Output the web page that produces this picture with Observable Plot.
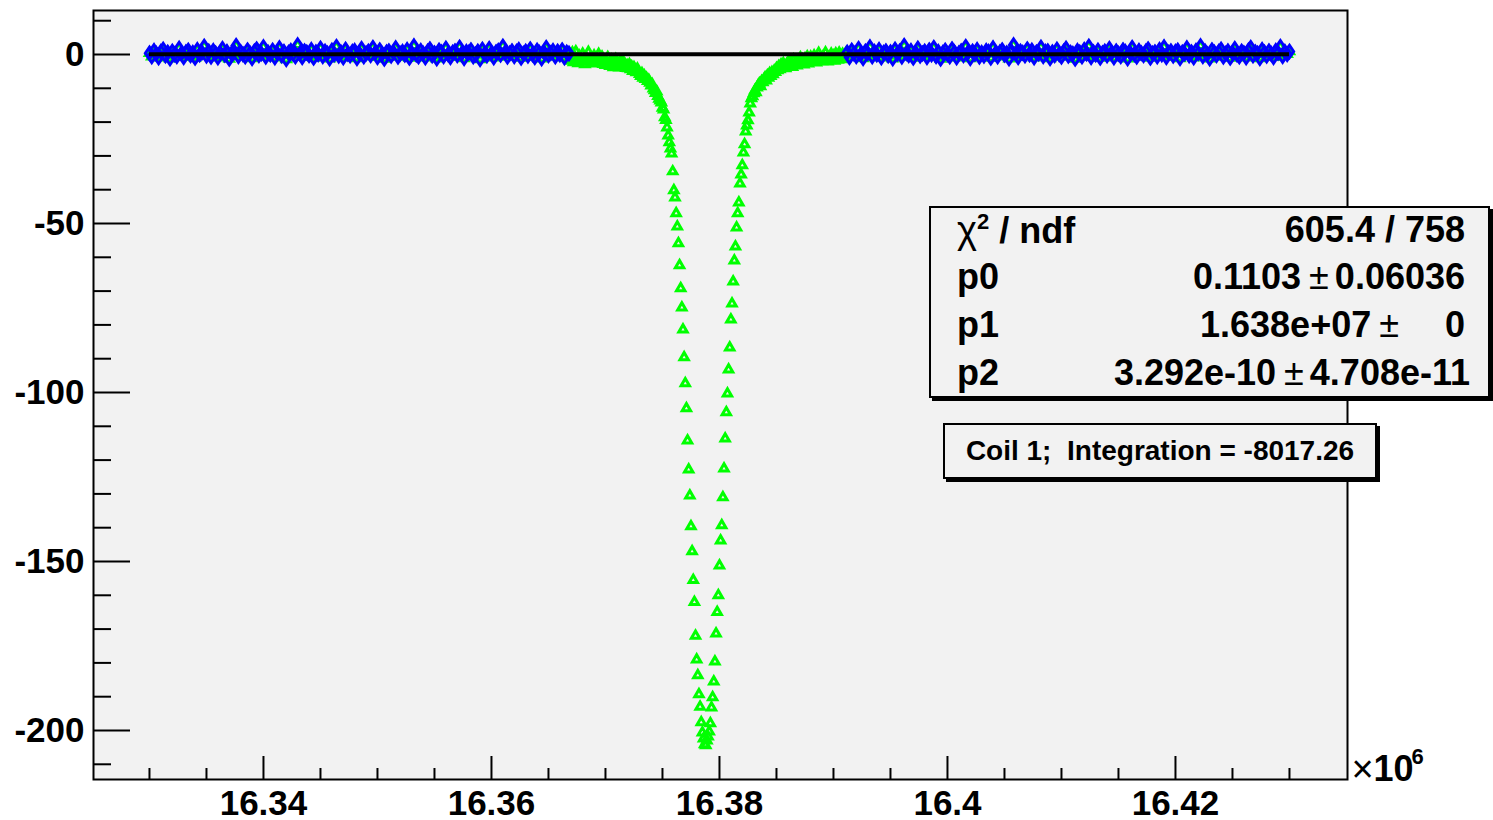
<!DOCTYPE html>
<html><head><meta charset="utf-8">
<script src="https://cdn.jsdelivr.net/npm/d3@7"></script>
<script src="https://cdn.jsdelivr.net/npm/@observablehq/plot@0.6"></script>
<style>
html,body{margin:0;padding:0;background:#fff;}
#wrap{position:relative;width:1493px;height:820px;font-family:"Liberation Sans",Arial,Helvetica,sans-serif;color:#000;}
#wrap svg{position:absolute;left:0;top:0;}
.box{position:absolute;background:#f2f2f2;border:2px solid #000;box-shadow:3px 3px 0 #000;box-sizing:border-box;font-weight:bold;}
.row{position:absolute;left:26px;right:23px;height:48px;line-height:48px;display:flex;justify-content:space-between;white-space:pre;font-size:36px;}
.pm{font-weight:normal;margin:0 6px 0 8px;}
.chi{font-weight:normal;font-size:38px;}
.sup{font-size:22px;position:relative;top:-14px;}
</style>
</head><body>
<div id="wrap"></div>
<script>
// ---------------- data ----------------
// baseline points used by the fit (blue) left of the resonance
const leftStart = 16.33, leftStep = 0.0002;
const leftNoise = [
0.4,-0.6,1.1,0.2,-0.9,0.8,1.5,-0.3,0.6,-1.2,
0.9,0.1,-0.5,1.8,0.3,-0.8,0.7,1.2,-0.2,0.5,
-1.0,1.4,0.0,0.6,2.4,-0.4,0.9,-0.7,1.1,0.3,
-0.9,0.5,1.7,-0.1,0.8,-1.3,0.2,1.0,2.6,-0.5,
0.7,0.1,-0.6,1.3,0.4,-1.1,0.9,1.6,-0.2,0.3,
2.2,-0.7,0.6,0.0,1.2,-0.9,0.4,1.9,-0.3,0.8,
-1.4,0.5,1.1,0.2,-0.6,2.8,0.3,-0.8,1.0,0.6,
-0.2,1.4,-1.0,0.7,0.1,1.8,-0.5,0.9,0.3,-1.2,
1.2,0.0,2.3,-0.4,0.6,-0.9,1.5,0.2,-0.3,0.8,
1.1,-1.1,0.4,1.7,-0.6,0.3,0.9,-0.2,2.0,0.5,
-0.8,1.3,0.1,-1.3,0.7,1.0,-0.4,0.6,1.9,-0.7,
0.2,0.8,-0.1,1.4,-1.0,0.5,2.5,0.0,-0.6,1.1,
0.3,-0.9,0.9,1.6,-0.3,0.4,-1.2,1.2,0.7,-0.5,
1.8,0.1,-0.8,0.6,1.0,-0.2,2.1,0.3,-1.1,0.8,
0.5,1.3,-0.6,0.0,0.9,-1.4,1.5,0.2,-0.3,1.7,
0.4,-0.9,0.7,1.1,-0.1,2.4,0.6,-0.7,0.3,1.0,
-0.5,0.8,1.4,-1.0,0.2,0.9,-0.4,1.6,0.1,-0.8,
1.2,0.5,-1.2,0.7,2.0,-0.2,0.4,1.1,-0.6,0.9,
0.0,1.3,-0.9,0.6,0.3];

// resonance region (green only)
const dipStart = 16.3669, dipStep = 0.0001;
const dipValues = [
-0.8,-1.9,0.6,-2.3,-1.1,0.9,-1.6,-2.6,-0.4,-1.3,
-2.1,0.2,-1.7,-2.9,-0.9,-1.4,0.7,-2.2,-1.0,-2.5,
-1.8,-0.3,-2.7,-1.2,-1.6,0.1,-2.4,-1.9,-0.7,-2.8,
-1.9,-3.1,-2.2,-0.8,-2.9,-3.4,-1.6,-2.5,-3.8,-2.0,
-1.4,-3.3,-2.7,-3.9,-2.1,-3.0,-1.8,-3.6,-2.8,-4.0,
-3.2,-4.1,-2.9,-4.4,-3.6,-4.9,-3.8,-4.6,-5.3,-4.2,
-5.1,-5.8,-6.4,-5.6,-6.9,-6.2,-7.3,-7.0,-7.9,-7.6,
-8.4,-9.2,-8.8,-10.1,-10.6,-11.4,-11.0,-12.3,-13.1,-13.6,
-14.2,-15.8,-16.3,-18.6,-19.4,-21.6,-24.0,-26.0,-27.8,-29.3,
-34.6,-40.2,-42.3,-47.0,-50.9,-55.9,-62.4,-69.2,-74.9,-81.4,
-89.6,-97.3,-104.7,-114.2,-122.8,-130.5,-139.6,-147.0,-155.5,-162.0,
-172.0,-179.0,-183.7,-189.3,-193.0,-197.6,-200.6,-202.4,-204.1,-204.4,
-203.0,-201.8,-200.3,-197.9,-193.2,-190.2,-185.5,-179.6,-171.3,-165.0,
-160.0,-151.2,-143.8,-139.3,-131.0,-122.5,-113.6,-105.9,-100.3,-93.2,
-86.7,-78.4,-73.7,-67.2,-61.0,-56.8,-51.2,-47.0,-43.8,-38.2,
-35.5,-32.8,-29.0,-26.6,-22.8,-21.0,-19.5,-17.2,-14.5,-13.0,
-12.4,-11.5,-10.7,-11.2,-9.8,-9.1,-8.6,-9.4,-7.9,-8.2,
-7.4,-6.8,-7.7,-6.2,-6.9,-5.6,-6.4,-5.3,-5.9,-4.8,
-5.2,-4.1,-4.7,-3.5,-4.4,-3.0,-3.9,-2.6,-3.6,-4.1,
-2.8,-3.4,-1.9,-3.1,-2.4,-3.7,-1.6,-2.9,-2.2,-3.3,
-1.8,-2.6,-0.9,-2.3,-1.5,-3.0,-1.2,-2.0,-0.6,-2.7,
-1.4,-0.7,-2.2,-1.9,-0.3,-1.6,-2.4,-1.0,0.4,-1.8,
-1.1,-2.0,-0.5,-1.5,0.6,-1.3,-2.1,-0.8,-1.7,0.2,
-1.2,-0.4,-1.9,0.3,-1.0,-1.6,0.5,-0.6,-1.4,0.1,-0.9,-1.3,0.4];

// baseline points used by the fit (blue) right of the resonance
const rightStart = 16.3912, rightStep = 0.0002;
const rightNoise = [
0.6,-0.8,1.2,0.3,-0.5,1.7,0.1,-1.1,0.9,0.4,
2.2,-0.6,0.8,0.0,1.4,-0.9,0.5,1.0,-0.3,0.7,
-1.2,1.5,0.2,0.9,-0.7,2.6,0.4,-0.2,1.1,-1.0,
0.6,1.8,-0.4,0.3,0.9,-0.8,1.3,0.0,2.0,-0.5,
0.8,-1.3,0.5,1.2,0.1,-0.6,1.6,0.7,-0.9,0.4,
1.0,-0.2,2.3,0.6,-1.1,0.9,0.2,1.4,-0.7,0.5,
-0.4,1.1,0.8,-1.0,1.9,0.3,-0.6,0.7,1.3,-0.1,
0.4,-1.2,1.0,2.8,0.2,-0.8,0.9,0.5,-0.3,1.6,
0.0,1.2,-0.9,0.6,0.3,2.1,-0.5,0.8,1.0,-1.1,
0.7,-0.2,1.5,0.1,-0.7,0.9,1.8,-0.4,0.5,0.2,
-1.3,1.1,0.6,-0.6,1.4,0.3,2.4,-0.8,0.7,0.0,
1.2,-1.0,0.4,0.9,-0.3,1.7,0.5,-0.9,1.0,0.2,
-0.5,1.3,0.8,-1.2,0.6,2.0,0.1,-0.7,1.1,0.4,
-0.2,0.9,1.6,-1.0,0.3,0.7,-0.6,1.4,0.0,2.2,
-0.8,0.5,1.0,-0.4,0.8,1.2,-1.1,0.6,0.3,1.9,
-0.3,0.7,-0.9,1.1,0.4,2.5,-0.5,0.9,0.1,-1.2,
1.3,0.6,-0.2,0.8,1.5,-0.7,0.2,1.0,-1.0,0.5,
1.7,0.0,-0.6,0.9,0.4,-0.9,1.2,2.0,-0.3,0.7,
0.3,-1.1,1.4,0.6,-0.4,1.0,0.2,-0.8,1.1,0.5,
2.3,-0.5,0.8,0.1,0.9];

// fit (pol0)
const fitRange = [16.33, 16.43];
const fitP0 = 0.1103;

// axes
const xDomain = [16.32509, 16.43509];
const yDomain = [-214.5, 13.02];
const xMajor = [16.34, 16.36, 16.38, 16.40, 16.42];
const xMajorLabels = ["16.34", "16.36", "16.38", "16.4", "16.42"];
const xMinor = [16.33, 16.335, 16.345, 16.35, 16.355, 16.365, 16.37, 16.375, 16.385, 16.39, 16.395, 16.405, 16.41, 16.415, 16.425, 16.43];
const yMajor = [0, -50, -100, -150, -200];
const yMajorLabels = ["0", "-50", "-100", "-150", "-200"];
const yMinor = [10, -10, -20, -30, -40, -60, -70, -80, -90, -110, -120, -130, -140, -160, -170, -180, -190, -210];

// stats text
const statNames = ["p0", "p1", "p2"];
const statValues = ["0.1103", "1.638e+07", "3.292e-10"];
const statErrors = ["0.06036", "    0", "4.708e-11"];
const chi2Text = "605.4 / 758";
const noteText = "Coil 1;  Integration = -8017.26";

// ---------------- build ----------------
const blue = [
  ...leftNoise.map((v, i) => ({x: leftStart + i * leftStep, y: v})),
  ...rightNoise.map((v, i) => ({x: rightStart + i * rightStep, y: v}))
];
const green = [
  ...blue,
  ...dipValues.map((v, i) => ({x: dipStart + i * dipStep, y: v}))
];

const diamond = {
  draw(ctx, size) {
    const r = Math.sqrt(size / Math.PI);
    const w = r * 0.75, h = r * 1.1;
    ctx.moveTo(0, -h); ctx.lineTo(w, 0); ctx.lineTo(0, h); ctx.lineTo(-w, 0); ctx.closePath();
  }
};

const W = 1493, H = 820, mL = 93, mR = 146, mT = 10, mB = 41;
const fw = W - mL - mR, fh = H - mT - mB;
const font = "Liberation Sans, Arial, Helvetica, sans-serif";

const svg = Plot.plot({
  width: W, height: H,
  marginLeft: mL, marginRight: mR, marginTop: mT, marginBottom: mB,
  x: {domain: xDomain, axis: null},
  y: {domain: yDomain, axis: null},
  style: {background: "white", fontFamily: font, overflow: "visible"},
  marks: [
    Plot.frame({fill: "#f2f2f2", stroke: null}),
    Plot.dot(green, {x: "x", y: "y", symbol: "triangle", r: 3.1, stroke: "#00ff00", strokeWidth: 3, fill: "none"}),
    Plot.dot(blue, {x: "x", y: "y", symbol: diamond, r: 5.5, stroke: "#0000ff", strokeWidth: 3, fill: "none"}),
    Plot.ruleY([{y: fitP0, x1: fitRange[0], x2: fitRange[1]}], {y: "y", x1: "x1", x2: "x2", stroke: "#000", strokeWidth: 4}),
    Plot.frame({stroke: "#000", strokeWidth: 2}),
    Plot.tickX(xMinor, {x: d => d, insetTop: fh - 11, stroke: "#000", strokeWidth: 2}),
    Plot.tickX(xMajor, {x: d => d, insetTop: fh - 23, stroke: "#000", strokeWidth: 2}),
    Plot.tickY(yMinor, {y: d => d, insetRight: fw - 18, stroke: "#000", strokeWidth: 2}),
    Plot.tickY(yMajor, {y: d => d, insetRight: fw - 37, stroke: "#000", strokeWidth: 2}),
    Plot.text(xMajor, {x: d => d, text: (d, i) => xMajorLabels[i], frameAnchor: "bottom", lineAnchor: "bottom", dy: 35, fontSize: 35, fontWeight: "bold", fill: "#000"}),
    Plot.text(yMajor, {y: d => d, text: (d, i) => yMajorLabels[i], frameAnchor: "left", textAnchor: "end", dx: -9, fontSize: 35, fontWeight: "bold", fill: "#000"}),
    Plot.text(["×"], {text: d => d, frameAnchor: "bottom-right", textAnchor: "middle", lineAnchor: "bottom", dx: 15, dy: 2, fontSize: 38, fill: "#000"}),
    Plot.text(["10"], {text: d => d, frameAnchor: "bottom-right", textAnchor: "start", lineAnchor: "bottom", dx: 26, dy: 1, fontSize: 36, fontWeight: "bold", fill: "#000"}),
    Plot.text(["6"], {text: d => d, frameAnchor: "bottom-right", textAnchor: "start", lineAnchor: "bottom", dx: 64, dy: -16, fontSize: 22, fontWeight: "bold", fill: "#000"})
  ]
});

const wrap = document.getElementById("wrap");
wrap.appendChild(svg);

// stats box
const stat = document.createElement("div");
stat.className = "box";
Object.assign(stat.style, {left: "929px", top: "206px", width: "561px", height: "192px"});
let html = `<div class="row" style="top:-2px"><span><span class="chi">χ</span><span class="sup">2</span> / ndf</span><span>${chi2Text}</span></div>`;
statNames.forEach((n, i) => {
  const extra = i === 2 ? "right:18px;" : "";
  html += `<div class="row" style="top:${45 + i * 48}px;${extra}"><span>${n}</span><span>${statValues[i]}<span class="pm">±</span>${statErrors[i]}</span></div>`;
});
stat.innerHTML = html;
wrap.appendChild(stat);

const note = document.createElement("div");
note.className = "box";
Object.assign(note.style, {left: "943px", top: "423px", width: "434px", height: "56px", fontSize: "28px", lineHeight: "52px", textAlign: "center", whiteSpace: "pre"});
note.textContent = noteText;
wrap.appendChild(note);
</script>
</body></html>
